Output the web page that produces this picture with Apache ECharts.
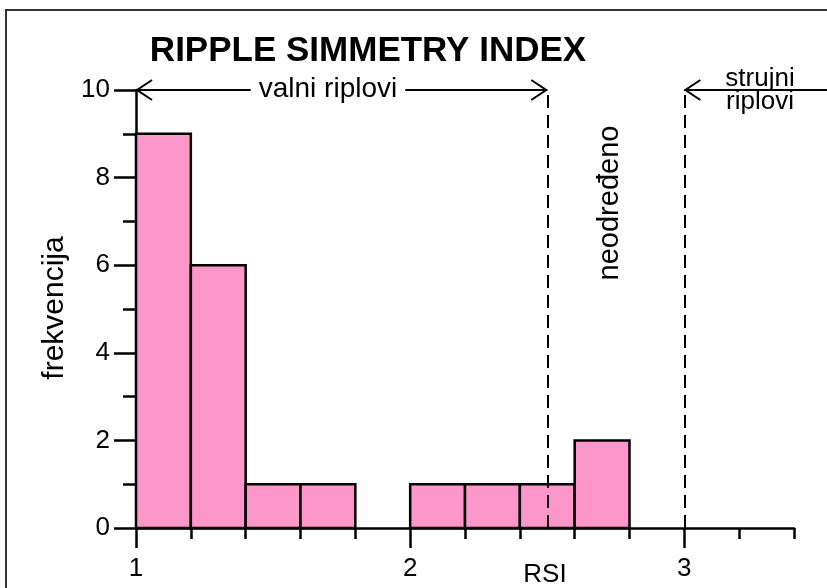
<!DOCTYPE html>
<html>
<head>
<meta charset="utf-8">
<script src="https://cdn.jsdelivr.net/npm/echarts@6/dist/echarts.min.js"></script>
<style>
  html, body { margin: 0; padding: 0; background: #fff; }
  #chart { width: 827px; height: 588px; }
</style>
</head>
<body>
<div id="chart"></div>
<script>
// histogram bins (left edge) and counts
const binStart = [1.0, 1.2, 1.4, 1.6, 1.8, 2.0, 2.2, 2.4, 2.6];
const binWidth = 0.2;
const counts = [9, 6, 1, 1, 0, 1, 1, 1, 2];

// axis ticks
const xMajor = [1, 2, 3];
const yMinorStep = 1;
const yMajorStep = 2;

// class boundaries (dashed) and arrows: from, to, level, head at start, head at end
const boundaries = [2.5, 3];
const arrowFrom = [1, 3];
const arrowTo = [2.5, 3.55];
const arrowLevel = [10, 10];
const arrowHeadStart = [1, 1];
const arrowHeadEnd = [1, 0];

const FONT = '"Liberation Sans", Arial, sans-serif';

const chart = echarts.init(document.getElementById('chart'));

const binData = binStart.map((s, i) => [s, +(s + binWidth).toFixed(2), counts[i]]);
const arrowData = arrowFrom.map((f, i) => [f, arrowTo[i], arrowLevel[i], arrowHeadStart[i], arrowHeadEnd[i]]);

function renderBin(params, api) {
  const n = api.value(2);
  if (!n) return;
  const p0 = api.coord([api.value(0), 0]);
  const p1 = api.coord([api.value(1), n]);
  return {
    type: 'rect',
    shape: { x: p0[0], y: p1[1], width: p1[0] - p0[0], height: p0[1] - p1[1] },
    style: { fill: '#fd97c9', stroke: '#000', lineWidth: 2.5 }
  };
}

function renderArrow(params, api) {
  const a = api.coord([api.value(0), api.value(2)]);
  const b = api.coord([api.value(1), api.value(2)]);
  const st = { stroke: '#000', lineWidth: 2, fill: 'none' };
  const children = [
    { type: 'line', shape: { x1: a[0], y1: a[1], x2: b[0], y2: b[1] }, style: st }
  ];
  if (api.value(3)) {
    children.push({ type: 'polyline', shape: { points: [[a[0] + 16, a[1] - 10], [a[0] + 1, a[1]], [a[0] + 16, a[1] + 10]] }, style: st });
  }
  if (api.value(4)) {
    children.push({ type: 'polyline', shape: { points: [[b[0] - 16, b[1] - 10], [b[0] - 1, b[1]], [b[0] - 16, b[1] + 10]] }, style: st });
  }
  return { type: 'group', children: children };
}

chart.setOption({
  animation: false,
  backgroundColor: '#fff',
  grid: { left: 136, right: 33, top: 90, bottom: 60 },
  xAxis: [
    {
      type: 'value', min: 1, max: 3.4, interval: 0.2,
      axisLine: { show: true, onZero: false, lineStyle: { color: '#000', width: 2.5 } },
      axisTick: { show: true, length: 11, lineStyle: { color: '#000', width: 2.5 } },
      axisLabel: { show: false },
      splitLine: { show: false }
    },
    {
      type: 'value', min: 1, max: 3.4, position: 'bottom',
      axisLine: { show: false },
      axisTick: { show: true, length: 20, customValues: xMajor, lineStyle: { color: '#000', width: 2.5 } },
      axisLabel: { show: true, customValues: xMajor, margin: 28, fontSize: 26, color: '#000', fontFamily: FONT },
      splitLine: { show: false }
    }
  ],
  yAxis: [
    {
      type: 'value', min: 0, max: 10, interval: yMinorStep, position: 'left',
      axisLine: { show: true, onZero: false, lineStyle: { color: '#000', width: 2.5 } },
      axisTick: { show: true, length: 13, lineStyle: { color: '#000', width: 2.5 } },
      axisLabel: { show: false },
      splitLine: { show: false }
    },
    {
      type: 'value', min: 0, max: 10, interval: yMajorStep, position: 'left',
      axisLine: { show: false },
      axisTick: { show: true, length: 22, lineStyle: { color: '#000', width: 2.5 } },
      axisLabel: { show: true, margin: 26, fontSize: 26, color: '#000', fontFamily: FONT },
      splitLine: { show: false }
    }
  ],
  series: [
    {
      name: 'RSI',
      type: 'custom',
      renderItem: renderBin,
      encode: { x: [0, 1], y: 2 },
      data: binData,
      markLine: {
        silent: true,
        symbol: 'none',
        label: { show: false },
        lineStyle: { color: '#000', width: 2, type: [13, 7] },
        data: boundaries.map(v => ({ xAxis: v }))
      }
    },
    {
      name: 'arrows',
      type: 'custom',
      renderItem: renderArrow,
      encode: { x: [0, 1], y: 2 },
      data: arrowData,
      z: 5
    }
  ],
  graphic: [
    {
      type: 'polyline', z: 100, silent: true,
      shape: { points: [[6, 588], [6, 10], [827, 10]] },
      style: { stroke: '#333', lineWidth: 2, fill: 'none' }
    },
    {
      type: 'text', z: 100, x: 368, y: 51,
      style: { text: 'RIPPLE SIMMETRY INDEX', font: 'bold 35px ' + FONT, fill: '#000', align: 'center', verticalAlign: 'middle' }
    },
    {
      type: 'text', z: 100, x: 328, y: 89,
      style: { text: 'valni riplovi', font: '28px ' + FONT, fill: '#000', align: 'center', verticalAlign: 'middle', backgroundColor: '#fff', padding: [0, 8] }
    },
    {
      type: 'text', z: 100, x: 760, y: 90,
      style: { text: 'strujni\nriplovi', font: '26px ' + FONT, lineHeight: 23, fill: '#000', align: 'center', verticalAlign: 'middle' }
    },
    {
      type: 'text', z: 100, x: 610, y: 203, rotation: Math.PI / 2,
      style: { text: 'neodređeno', font: '29px ' + FONT, fill: '#000', align: 'center', verticalAlign: 'middle' }
    },
    {
      type: 'text', z: 100, x: 55, y: 308, rotation: Math.PI / 2,
      style: { text: 'frekvencija', font: '30px ' + FONT, fill: '#000', align: 'center', verticalAlign: 'middle' }
    },
    {
      type: 'text', z: 100, x: 545, y: 575,
      style: { text: 'RSI', font: '26px ' + FONT, fill: '#000', align: 'center', verticalAlign: 'middle' }
    }
  ]
});
</script>
</body>
</html>
